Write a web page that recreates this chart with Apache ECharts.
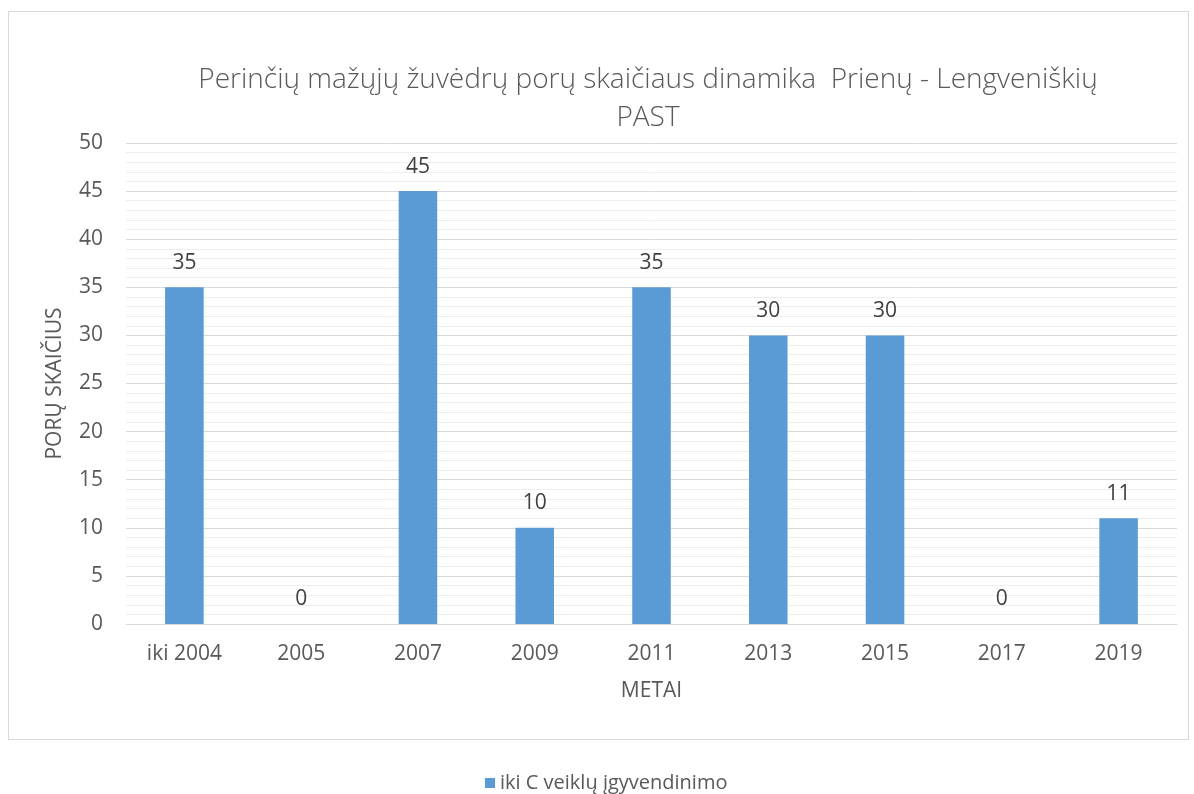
<!DOCTYPE html>
<html>
<head>
<meta charset="utf-8">
<script src="https://cdn.jsdelivr.net/npm/echarts@6/dist/echarts.min.js"></script>
<style>
    html, body { margin: 0; padding: 0; background: #fff; }
    #frame { position: absolute; left: 8px; top: 11px; width: 1179px; height: 727px; border: 1px solid #d9d9d9; }
    #chart { position: absolute; left: 0; top: 0; width: 1194px; height: 794px; }
</style>
</head>
<body>
<div id="frame"></div>
<div id="chart"></div>
<script>
    const categories = ['iki 2004', '2005', '2007', '2009', '2011', '2013', '2015', '2017', '2019'];
    const pairs = [35, 0, 45, 10, 35, 30, 30, 0, 11];
    const seriesName = 'iki C veiklų įgyvendinimo';

    const font = '"Open Sans", "DejaVu Sans", sans-serif';
    const chart = echarts.init(document.getElementById('chart'));

    const option = {
        animation: false,
        title: {
            text: 'Perinčių mažųjų žuvėdrų porų skaičiaus dinamika  Prienų - Lengveniškių\nPAST',
            left: 643,
            top: 56,
            textAlign: 'center',
            textStyle: {
                fontFamily: font,
                fontSize: 28,
                fontWeight: 300,
                color: '#595959',
                lineHeight: 38
            }
        },
        legend: {
            data: [seriesName],
            top: 768,
            left: 480,
            itemWidth: 10,
            itemHeight: 10,
            itemGap: 5,
            icon: 'rect',
            textStyle: { fontFamily: font, fontSize: 20, color: '#595959' }
        },
        grid: {
            left: 126,
            right: 17,
            top: 143,
            bottom: 170
        },
        xAxis: {
            type: 'category',
            data: categories,
            name: 'METAI',
            nameLocation: 'middle',
            nameGap: 57,
            nameTextStyle: { fontFamily: font, fontSize: 21, color: '#595959' },
            axisLine: { lineStyle: { color: '#d9d9d9', width: 1 } },
            axisTick: { show: false },
            axisLabel: { fontFamily: font, fontSize: 21, color: '#595959', margin: 20 }
        },
        yAxis: {
            type: 'value',
            min: 0,
            max: 50,
            interval: 5,
            name: 'PORŲ SKAIČIUS',
            nameLocation: 'middle',
            nameGap: 60,
            nameTextStyle: { fontFamily: font, fontSize: 21, color: '#595959' },
            axisLabel: { fontFamily: font, fontSize: 21, color: '#595959', margin: 23 },
            splitLine: { lineStyle: { color: '#d9d9d9', width: 1 } },
            minorTick: { show: false, splitNumber: 5 },
            minorSplitLine: { show: true, lineStyle: { color: '#eeeeee', width: 1 } }
        },
        series: [{
            name: seriesName,
            type: 'bar',
            data: pairs,
            barWidth: '33%',
            itemStyle: { color: '#5b9bd5' },
            label: {
                show: true,
                position: 'top',
                distance: 14,
                fontFamily: font,
                fontSize: 21,
                color: '#404040'
            }
        }]
    };

    chart.setOption(option);
</script>
</body>
</html>
